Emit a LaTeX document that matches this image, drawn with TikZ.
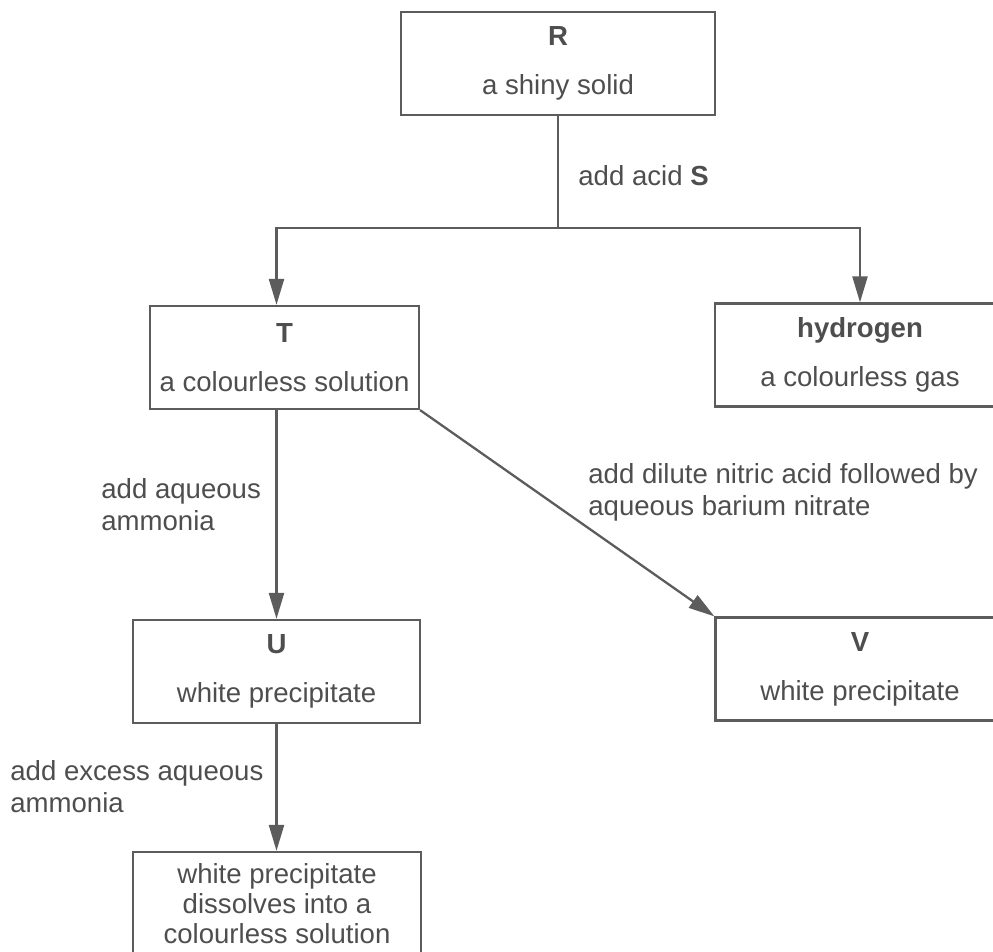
\documentclass[tikz,border=0pt]{standalone}
\usepackage{fontspec}
\setmainfont{Liberation Sans}
\usepackage{tikz}
\usetikzlibrary{arrows.meta,positioning}
\definecolor{ink}{RGB}{78,78,78}
\definecolor{rule}{RGB}{92,92,92}

\begin{document}
\begin{tikzpicture}[
  x=0.02cm, y=-0.02cm,
  every node/.style={font=\fontsize{15.7}{18}\selectfont, text=ink, align=center},
  box/.style={rectangle, draw=rule, line width=1.3pt, minimum width=#1, minimum height=2.06cm, inner sep=0pt},
  cond/.style={anchor=north west, inner sep=0pt, align=left, font=\fontsize{15.7}{18.2}\selectfont},
  line/.style={draw=rule, line width=1.3pt},
  arrow/.style={line, -{Triangle[length=5.2mm, width=3mm]}}
]
\useasboundingbox (0,0) rectangle (993,952);

% START
\node[box=6.28cm] (R) at (558,63.5) {\textbf{R}\\[10pt]a shiny solid};
\coordinate (split) at (558,228);
\node[cond] (acid) at (578,165) {add acid \textbf{S}};

% FIRST PRODUCTS
\node[box=5.38cm] (T) at (284.5,357.5) {\textbf{T}\\[10pt]a colourless solution};
\node[box=5.8cm] (H) at (860,355) {\textbf{hydrogen}\\[10pt]a colourless gas};

% TESTS ON T
\node[box=5.74cm] (U) at (276.5,671.5) {\textbf{U}\\[10pt]white precipitate};
\node[box=5.78cm] (V) at (860,669) {\textbf{V}\\[10pt]white precipitate};
\node[cond] (ammonia) at (101,478) {add aqueous\\ammonia};
\node[cond] (nitrate) at (588,463) {add dilute nitric acid followed by\\aqueous barium nitrate};

% EXCESS AMMONIA
\node[box=5.76cm, font=\fontsize{15.7}{17}\selectfont] (W) at (277,903.5) {white precipitate\\dissolves into a\\colourless solution};
\node[cond] (excess) at (10,760) {add excess aqueous\\ammonia};

\draw[line] (R) -- (split);
\draw[arrow] (split) -| (U.north |- T.north);
\draw[arrow] (split) -| (H.north);
\draw[arrow] (U.north |- T.south) -- (U.north);
\draw[arrow] (T.south east) -- (V.north west);
\draw[arrow] (U.south) -- (U.south |- W.north);

\end{tikzpicture}
\end{document}
